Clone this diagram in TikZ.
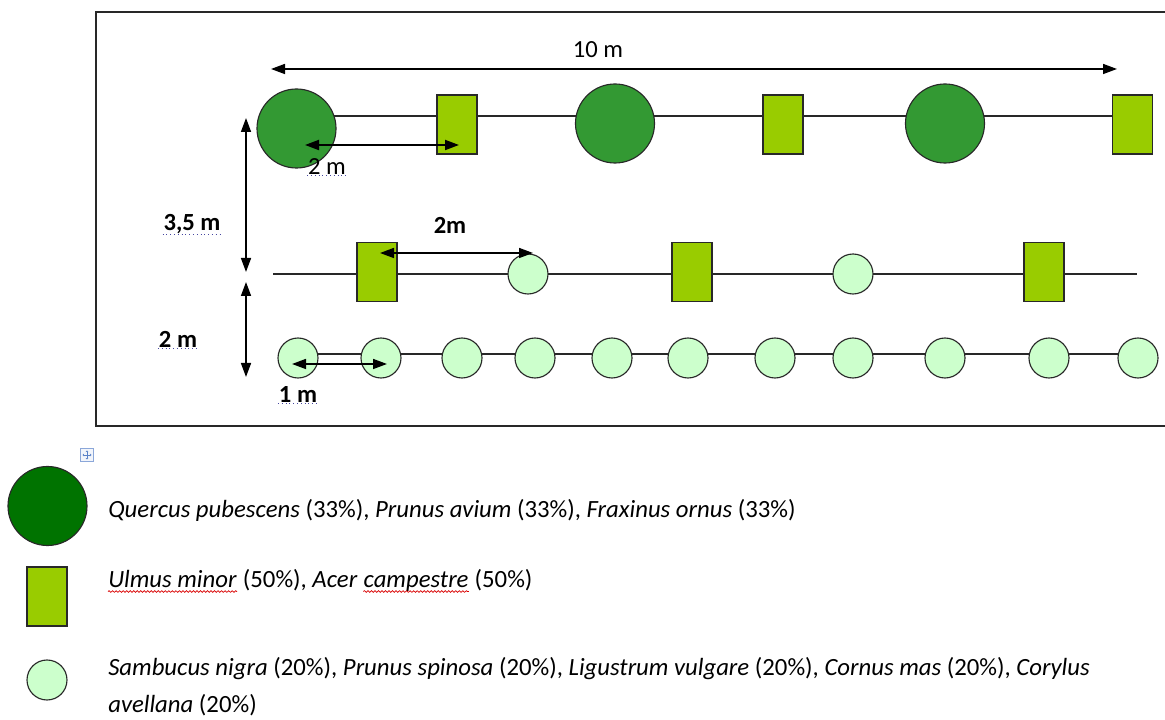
\documentclass[tikz,border=0pt]{standalone}
\usepackage{fontspec}
\setmainfont{Carlito}
\usetikzlibrary{arrows.meta,decorations.pathmorphing}
\definecolor{treegreen}{RGB}{51,153,51}
\definecolor{darktree}{RGB}{0,115,0}
\definecolor{sqgreen}{RGB}{153,204,0}
\definecolor{shrub}{RGB}{204,255,204}
\definecolor{edgec}{RGB}{40,40,40}
\definecolor{spellblue}{RGB}{70,70,160}
\definecolor{iconblue}{RGB}{90,130,200}
\begin{document}
\begin{tikzpicture}[x=0.025cm,y=-0.025cm,
  bigtree/.style={circle,minimum size=1.975cm,inner sep=0,fill=treegreen,draw=edgec,line width=0.8pt},
  midtree/.style={rectangle,minimum width=1cm,minimum height=1.475cm,inner sep=0,fill=sqgreen,draw=edgec,line width=0.8pt},
  shrubc/.style={circle,minimum size=1cm,inner sep=0,fill=shrub,draw=edgec,line width=0.8pt},
  rowline/.style={draw=edgec,line width=0.8pt},
  dimarrow/.style={line width=1.1pt,{Triangle[length=0.35cm,width=0.25cm]}-{Triangle[length=0.35cm,width=0.25cm]}},
  dimlabel/.style={font=\fontsize{17.5}{20}\selectfont,inner sep=0.5pt},
  boldlabel/.style={dimlabel,font=\fontsize{17.5}{20}\selectfont\bfseries},
  legtext/.style={font=\fontsize{17.6}{20}\selectfont,inner sep=0,anchor=base west},
  spell/.style={spellblue,line width=0.7pt,dotted},
  wavy/.style={red!85!black,line width=0.5pt,decorate,decoration={snake,amplitude=0.6pt,segment length=2.5pt}}
]
\useasboundingbox (0,0) rectangle (1165,720);
% frame
\draw[edgec,line width=1pt] (1166,12) -- (96,12) -- (96,426) -- (1166,426);

% row lines
\coordinate (r1a) at (296,116); \coordinate (r1b) at (1132,116);
\coordinate (r2a) at (273,274); \coordinate (r2b) at (1137,274);
\coordinate (r3a) at (298,354); \coordinate (r3b) at (1138,354);
\draw[rowline] (r1a) -- (r1b);
\draw[rowline] (r2a) -- (r2b);
\draw[rowline] (r3a) -- (r3b);

% row 1
\node[bigtree] (c1) at (296.5,128.5) {};
\node[midtree] (s1) at (457,124.5) {};
\node[bigtree] (c2) at (615,123.5) {};
\node[midtree] (s2) at (783,124.5) {};
\node[bigtree] (c3) at (945,123.5) {};
\node[midtree] (s3) at (1132.5,124.5) {};

% row 2
\node[midtree] (t1) at (377,272) {};
\node[shrubc] (u1) at (528,274) {};
\node[midtree] (t2) at (692,272) {};
\node[shrubc] (u2) at (853,274) {};
\node[midtree] (t3) at (1044,272) {};

% row 3
\foreach \x [count=\i] in {298,381,462,535,612,688,775,853,945,1049,1138}
  \node[shrubc] (h\i) at (\x,358) {};

% dimension arrows
\coordinate (d10a) at (271,69); \coordinate (d10b) at (1117,69);
\draw[dimarrow] (d10a) -- (d10b);
\node[dimlabel] (l10) at (598,50) {10 m};

\coordinate (d2a) at (305,145); \coordinate (d2b) at (459,145);
\draw[dimarrow,line width=1.4pt] (d2a) -- (d2b);
\node[dimlabel] (l2) at (327,167) {2 m};
\draw[spell] (l2.south west) -- (l2.south east);

\coordinate (v1a) at (246,118); \coordinate (v1b) at (246,272);
\draw[dimarrow] (v1a) -- (v1b);
\node[boldlabel] (l35) at (192,224) {3,5 m};
\draw[spell] (l35.south west) -- (l35.south east);

\coordinate (v2a) at (246,282); \coordinate (v2b) at (246,377);
\draw[dimarrow] (v2a) -- (v2b);
\node[boldlabel] (l2v) at (178,339) {2 m};
\draw[spell] (l2v.south west) -- (l2v.south east);

\coordinate (d2ma) at (380,253); \coordinate (d2mb) at (533,253);
\draw[dimarrow] (d2ma) -- (d2mb);
\node[boldlabel] (l2m) at (450,225) {2m};

\coordinate (d1a) at (292,364); \coordinate (d1b) at (387,364);
\draw[dimarrow] (d1a) -- (d1b);
\node[boldlabel] (l1) at (298,395) {1 m};
\draw[spell] (l1.south west) -- (l1.south east);

% move icon
\node[draw=iconblue!70,fill=iconblue!8,minimum size=0.32cm,inner sep=0,line width=0.4pt] (icon) at (87,455) {};
\draw[iconblue,line width=0.5pt,-{Stealth[length=1.2pt,width=2pt]}] (icon.center) -- ++(0,-4.5);
\draw[iconblue,line width=0.5pt,-{Stealth[length=1.2pt,width=2pt]}] (icon.center) -- ++(0,4.5);
\draw[iconblue,line width=0.5pt,-{Stealth[length=1.2pt,width=2pt]}] (icon.center) -- ++(-4.5,0);
\draw[iconblue,line width=0.5pt,-{Stealth[length=1.2pt,width=2pt]}] (icon.center) -- ++(4.5,0);

% legend
\node[bigtree,fill=darktree] (lg1) at (47.5,506) {};
\node[midtree] (lg2) at (47,596.5) {};
\node[shrubc] (lg3) at (47,680) {};

\node[legtext] (q1) at (108,518) {\textit{Quercus pubescens} (33\%), \textit{Prunus avium} (33\%), \textit{Fraxinus ornus} (33\%)};

\node[legtext] (um) at (108,588) {\textit{Ulmus minor}};
\node[legtext] (um2) at (um.base east) {\ (50\%), \textit{Acer}\ \mbox{}};
\node[legtext] (ac) at (um2.base east) {\textit{campestre}};
\node[legtext] (um3) at (ac.base east) {\ (50\%)};
\draw[wavy] ([yshift=-2.5pt]um.base west) -- ([yshift=-2.5pt]um.base east);
\draw[wavy] ([yshift=-2.5pt]ac.base west) -- ([yshift=-2.5pt]ac.base east);

\node[legtext] (sb1) at (108,675) {\textit{Sambucus nigra} (20\%), \textit{Prunus spinosa} (20\%), \textit{Ligustrum vulgare} (20\%), \textit{Cornus mas} (20\%), \textit{Corylus}};
\node[legtext] (sb2) at (108,712) {\textit{avellana} (20\%)};
\end{tikzpicture}
\end{document}
